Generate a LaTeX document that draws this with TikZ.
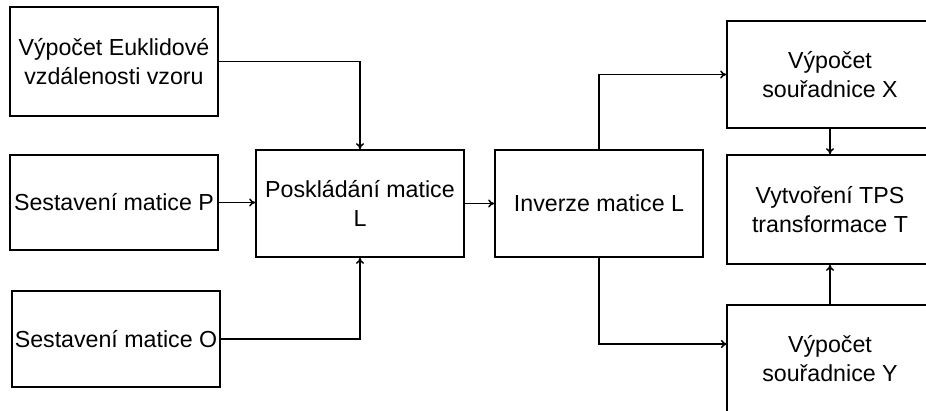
\documentclass[tikz,border=0pt]{standalone}
\usepackage{fontspec}
\setmainfont{Liberation Sans}
\usetikzlibrary{arrows.meta}
\begin{document}
\begin{tikzpicture}[x=1pt,y=-1pt,
  blk/.style={draw=black,line width=1.6pt,fill=white,minimum width=208pt,inner sep=0pt,align=center,
    font=\fontsize{23.2}{28.5}\selectfont},
  conn/.style={draw=black,line width=1.5pt,-{To[length=6pt,width=8pt]}}]
\useasboundingbox (0,0) rectangle (926,410);
\begin{scope}
\clip (0,0) rectangle (926,410);
\node[blk,minimum height=109pt] (A) at (114,61.5) {Výpočet Euklidové\\vzdálenosti vzoru};
\node[blk,minimum height=95pt] (P) at (114,202.5) {Sestavení matice P};
\node[blk,minimum height=96pt] (O) at (116,339) {Sestavení matice O};
\node[blk,minimum height=107pt] (L) at (360,203.5) {Poskládání matice\\L};
\node[blk,minimum height=107pt] (I) at (599,203.5) {Inverze matice L};
\node[blk,minimum width=206pt,minimum height=107pt] (X) at (830,74.5) {Výpočet\\souřadnice X};
\node[blk,minimum width=206pt,minimum height=109pt] (T) at (830,209.5) {Vytvoření TPS\\transformace T};
\node[blk,minimum width=206pt,minimum height=107pt] (Y) at (830,358.5) {Výpočet\\souřadnice Y};
\coordinate (yin) at (727,344);
\draw[conn] (A.east) -| (L.north);
\draw[conn] (P.east) -- (P.east -| L.west);
\draw[conn] (O.east) -| (L.south);
\draw[conn] (L.east) -- (I.west);
\draw[conn] (I.north) |- (X.west);
\draw[conn] (I.south) |- (yin);
\draw[conn] (X.south) -- (T.north);
\draw[conn] (Y.north) -- (T.south);
\end{scope}
\end{tikzpicture}
\end{document}
